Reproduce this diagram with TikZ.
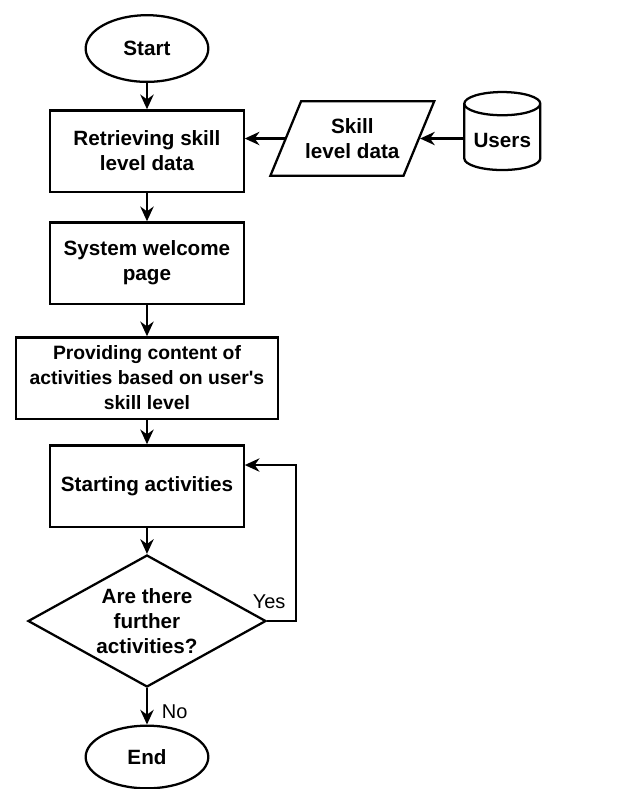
\documentclass[tikz,border=0pt]{standalone}
\usepackage{fontspec}
\setmainfont{Liberation Sans}
\usetikzlibrary{shapes.geometric,arrows.meta,positioning}

\begin{document}
\begin{tikzpicture}[node distance=2cm,on grid,auto,line width=1.7pt,
    >={Stealth[length=11pt,width=10pt]},
    every node/.style={font=\fontsize{15.5}{18.75}\selectfont\bfseries},
    lbl/.style={font=\fontsize{15}{18}\selectfont},
    terminal/.style={ellipse,draw,minimum width=92pt,minimum height=50pt},
    process/.style={rectangle,draw,align=center,minimum width=145pt,minimum height=61pt},
    decision/.style={diamond,draw,aspect=1.8,inner sep=0pt,align=center,minimum width=178.5pt,minimum height=99pt},
    datanode/.style={trapezium,draw,trapezium left angle=60,trapezium right angle=120,trapezium stretches=true,align=center,inner xsep=0pt,minimum width=123pt,minimum height=56pt},
    store/.style={cylinder,draw,shape border rotate=90,aspect=0.35,minimum width=57pt,minimum height=58.5pt}]
	     \useasboundingbox (-110.25pt,-555.4pt) rectangle (352.5pt,36.4pt);
	     \node[terminal] (start) {Start};
	     \node[process] (retr) [below=76.9pt of start] {Retrieving skill\\level data};
	     \node[process] (welcome) [below=84pt of retr] {System welcome\\page};
	     \node[process, minimum width=197pt, font=\fontsize{14.5}{18.75}\selectfont\bfseries] (content) [below=86.25pt of welcome] {Providing content of\\activities based on user\textquotesingle s\\skill level};
	     \node[process] (act) [below=81pt of content] {Starting activities};
	     \node[decision] (more) [below=101.25pt of act] {Are there\\further\\activities?};
	     \node[terminal, minimum height=47pt] (end) [below=102pt of more] {End};
	     \node[datanode] (skill) [above right=9.4pt and 154pt of retr] {Skill\\level data};
	     \node[store] (users) [below right=1.2pt and 112.5pt of skill] {Users};

	     \path[->]
	       (start) edge (retr)
	       (retr) edge (welcome)
	       (welcome) edge (content)
	       (content) edge (act)
	       (act) edge (more)
	       (more) edge node[lbl, right, pos=0.65, xshift=7pt] {No} (end)
	       (skill.west) edge (retr.east |- skill.west)
	       (users.west |- skill.east) edge (skill.east)
	     ;
	     \draw[->] (more.east) -- node[lbl, anchor=south, pos=0.07, yshift=5pt] {Yes} ++(21.75pt,0) |- ([yshift=15.75pt]act.east);
\end{tikzpicture}
\end{document}
